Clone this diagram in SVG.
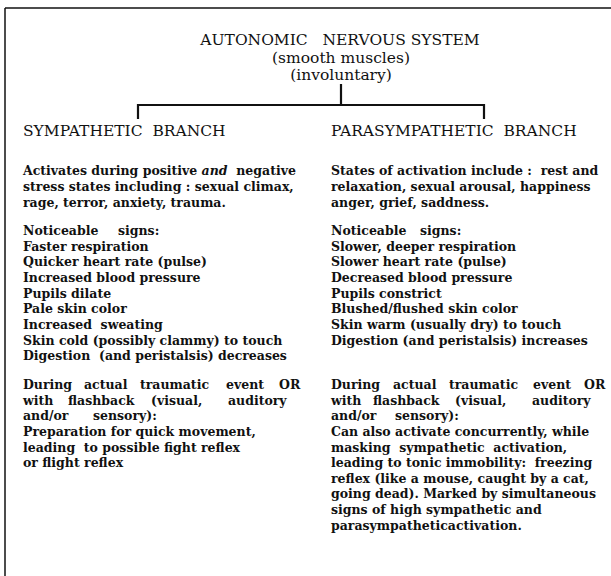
<svg xmlns="http://www.w3.org/2000/svg" width="611" height="576" viewBox="0 0 611 576" xml:space="preserve">
<style>
text{white-space:pre}
.t{font-family:"DejaVu Serif","Liberation Serif",serif;font-size:15.5px;fill:#111}
.h{font-family:"DejaVu Serif","Liberation Serif",serif;font-size:15.5px;fill:#111}
.b{font-family:"DejaVu Serif","Liberation Serif",serif;font-size:12.5px;font-weight:bold;fill:#111}
.ln{stroke:#111;fill:none}
</style>
<rect width="611" height="576" fill="#fff"/>
<g id="frame">
<line class="ln" x1="5" y1="8" x2="611" y2="8" stroke-width="1.5"/>
<line class="ln" x1="5" y1="8" x2="5" y2="576" stroke-width="1.5"/>
</g>
<g id="root">
<text class="t" x="340" y="45" text-anchor="middle">AUTONOMIC   NERVOUS SYSTEM</text>
<text class="t" x="341" y="63" text-anchor="middle">(smooth muscles)</text>
<text class="t" x="341" y="80" text-anchor="middle">(involuntary)</text>
</g>
<g id="connectors">
<path class="ln" stroke-width="2.2" d="M341 84V105M138 119V105H484V119"/>
</g>
<g id="sympathetic">
<text class="h" x="23" y="136">SYMPATHETIC  BRANCH</text>
<g class="b">
<text x="23" y="175">Activates during positive <tspan font-style="italic">and</tspan>  negative</text>
<text x="23" y="191">stress states including : sexual climax,</text>
<text x="23" y="207">rage, terror, anxiety, trauma.</text>
<text x="23" y="235">Noticeable<tspan x="118">signs:</tspan></text>
<text x="23" y="251">Faster respiration</text>
<text x="23" y="266">Quicker heart rate (pulse)</text>
<text x="23" y="282">Increased blood pressure</text>
<text x="23" y="298">Pupils dilate</text>
<text x="23" y="313">Pale skin color</text>
<text x="23" y="329">Increased  sweating</text>
<text x="23" y="345">Skin cold (possibly clammy) to touch</text>
<text x="23" y="360">Digestion  (and peristalsis) decreases</text>
<text x="23" y="389">During<tspan x="84">actual</tspan><tspan x="140">traumatic</tspan><tspan x="226">event</tspan><tspan x="279">OR</tspan></text>
<text x="23" y="405">with<tspan x="68">flashback</tspan><tspan x="151">(visual,</tspan><tspan x="228">auditory</tspan></text>
<text x="23" y="420">and/or<tspan x="93">sensory):</tspan></text>
<text x="23" y="436">Preparation for quick movement,</text>
<text x="23" y="452">leading  to possible fight reflex</text>
<text x="23" y="467">or flight reflex</text>
</g>
</g>
<g id="parasympathetic">
<text class="h" x="331" y="136">PARASYMPATHETIC  BRANCH</text>
<g class="b">
<text x="331" y="175">States of activation include :  rest and</text>
<text x="331" y="191">relaxation, sexual arousal, happiness</text>
<text x="331" y="207">anger, grief, saddness.</text>
<text x="331" y="235">Noticeable<tspan x="420">signs:</tspan></text>
<text x="331" y="251">Slower, deeper respiration</text>
<text x="331" y="266">Slower heart rate (pulse)</text>
<text x="331" y="282">Decreased blood pressure</text>
<text x="331" y="298">Pupils constrict</text>
<text x="331" y="313">Blushed/flushed skin color</text>
<text x="331" y="329">Skin warm (usually dry) to touch</text>
<text x="331" y="345">Digestion (and peristalsis) increases</text>
<text x="331" y="389">During<tspan x="393">actual</tspan><tspan x="449">traumatic</tspan><tspan x="533">event</tspan><tspan x="584">OR</tspan></text>
<text x="331" y="405">with<tspan x="373">flashback</tspan><tspan x="455">(visual,</tspan><tspan x="532">auditory</tspan></text>
<text x="331" y="420">and/or<tspan x="395">sensory):</tspan></text>
<text x="331" y="436">Can also activate concurrently, while</text>
<text x="331" y="452">masking  sympathetic  activation,</text>
<text x="331" y="467">leading to tonic immobility:  freezing</text>
<text x="331" y="483">reflex (like a mouse, caught by a cat,</text>
<text x="331" y="498">going dead). Marked by simultaneous</text>
<text x="331" y="514">signs of high sympathetic and</text>
<text x="331" y="530">parasympatheticactivation.</text>
</g>
</g>
</svg>
